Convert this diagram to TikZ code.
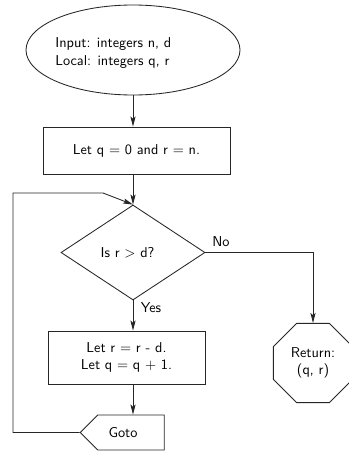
\documentclass[tikz,border=0pt]{standalone}
\usetikzlibrary{shapes.geometric,shapes.symbols,arrows.meta}
\begin{document}
\begin{tikzpicture}[x=0.7pt,y=-0.7pt,
  every node/.style={font=\sffamily},
  line/.style={draw=black!85, line width=0.6pt},
  arr/.style={line, -{Stealth[length=7pt,width=3.6pt,inset=1.5pt]}},
  boxstyle/.style={line, rectangle, inner sep=0pt, align=center}
]
\useasboundingbox (0,0) rectangle (348,451);
% ellipse
\node[line, ellipse, inner sep=0pt, minimum width=149.8pt, minimum height=63pt] (in) at (133,50) {};
\node[anchor=west, align=left, inner sep=0pt] (intext) at (55,53) {Input: integers n, d\\Local: integers q, r};
% box 1
\node[boxstyle, minimum width=130.9pt, minimum height=32.9pt] (b1) at (136.5,150.5) {Let q $=$ 0 and r $=$ n.};
% diamond
\node[line, diamond, inner sep=0pt, minimum width=100.8pt, minimum height=66.5pt] (dia) at (133,252.5) {};
\node[inner sep=0pt] (diat) at (127.5,253) {Is r $>$ d?};
% box 2
\node[boxstyle, minimum width=109.9pt, minimum height=37.1pt] (b2) at (126.5,357.5) {Let r $=$ r - d.\\ Let q $=$ q $+$ 1.};
% goto
\node[line, signal, signal to=west, signal pointer angle=90, inner sep=0pt, minimum width=58.8pt, minimum height=24.5pt] (goto) at (131,432.5) {\phantom{Goto}};
\node[inner sep=0pt] (gotot) at (123,432.5) {Goto};
% return
\node[line, regular polygon, regular polygon sides=8, inner sep=1pt, minimum size=60pt, align=center] (ret) at (313,363) {Return:\\(q, r)};
% connectors
\draw[arr] (in.south) -- (b1.north -| in.south);
\draw[arr] (b1.south -| dia.north) -- (dia.north);
\draw[arr] (dia.south) -- (dia.south |- b2.north);
\draw[arr] (dia.south |- b2.south) -- (dia.south |- goto.north);
\draw[arr] (goto.west) -| (13,193) -- (103,193) -- (dia.north);
\draw[arr] (dia.east) -| (ret.north);
\node[inner sep=0pt] (no) at (221,242) {No};
\node[inner sep=0pt] (yes) at (151,308) {Yes};
\end{tikzpicture}
\end{document}
